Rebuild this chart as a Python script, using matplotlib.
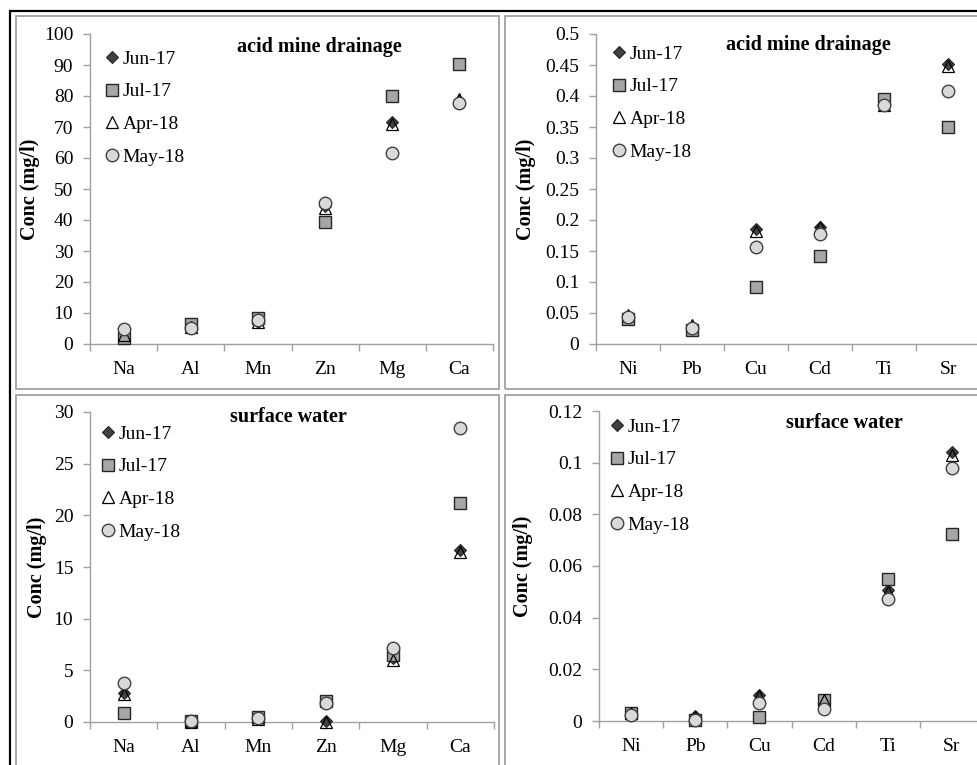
import matplotlib
matplotlib.use('Agg')
import matplotlib.pyplot as plt
from matplotlib.patches import Rectangle

W, H = 977, 765
plt.rcParams['font.family'] = ['Liberation Serif', 'DejaVu Serif']

# ---------------- data ----------------
series_labels = ['Jun-17', 'Jul-17', 'Apr-18', 'May-18']

major_elements = ['Na', 'Al', 'Mn', 'Zn', 'Mg', 'Ca']
trace_elements = ['Ni', 'Pb', 'Cu', 'Cd', 'Ti', 'Sr']

amd_major_jun = [2.5, 6.0, 7.0, 44.5, 71.5, 78.5]
amd_major_jul = [1.8, 6.5, 8.3, 39.5, 80.0, 90.2]
amd_major_apr = [2.8, 5.6, 7.0, 44.0, 71.0, 79.0]
amd_major_may = [4.8, 5.2, 7.6, 45.5, 61.5, 77.7]

amd_trace_jun = [0.045, 0.028, 0.185, 0.188, 0.390, 0.451]
amd_trace_jul = [0.040, 0.022, 0.092, 0.142, 0.395, 0.350]
amd_trace_apr = [0.046, 0.030, 0.183, 0.188, 0.385, 0.448]
amd_trace_may = [0.044, 0.026, 0.156, 0.177, 0.386, 0.408]

sw_major_jun = [2.8, 0.05, 0.35, 0.05, 6.2, 16.6]
sw_major_jul = [0.85, 0.05, 0.45, 2.0, 6.5, 21.2]
sw_major_apr = [2.7, 0.0, 0.30, 0.0, 6.0, 16.5]
sw_major_may = [3.8, 0.05, 0.40, 1.8, 7.2, 28.5]

sw_trace_jun = [0.0030, 0.0020, 0.0102, 0.0060, 0.0506, 0.1041]
sw_trace_jul = [0.0030, 0.0003, 0.0015, 0.0080, 0.0551, 0.0725]
sw_trace_apr = [0.0030, 0.0015, 0.0098, 0.0080, 0.0500, 0.1030]
sw_trace_may = [0.0025, 0.0002, 0.0070, 0.0048, 0.0471, 0.0981]

yticks_amd_major = [0, 10, 20, 30, 40, 50, 60, 70, 80, 90, 100]
ylabels_amd_major = ['0', '10', '20', '30', '40', '50', '60', '70', '80', '90', '100']
yticks_amd_trace = [0, 0.05, 0.1, 0.15, 0.2, 0.25, 0.3, 0.35, 0.4, 0.45, 0.5]
ylabels_amd_trace = ['0', '0.05', '0.1', '0.15', '0.2', '0.25', '0.3', '0.35', '0.4', '0.45', '0.5']
yticks_sw_major = [0, 5, 10, 15, 20, 25, 30]
ylabels_sw_major = ['0', '5', '10', '15', '20', '25', '30']
yticks_sw_trace = [0, 0.02, 0.04, 0.06, 0.08, 0.1, 0.12]
ylabels_sw_trace = ['0', '0.02', '0.04', '0.06', '0.08', '0.1', '0.12']

titles = ['acid mine drainage', 'acid mine drainage', 'surface water', 'surface water']
ylabel_text = 'Conc (mg/l)'

# ---------------- styles ----------------
styles = [
    dict(marker='D', markersize=6.5, markerfacecolor='#404040', markeredgecolor='#262626', markeredgewidth=0.8),
    dict(marker='s', markersize=9, markerfacecolor='#a6a6a6', markeredgecolor='#262626', markeredgewidth=1.0),
    dict(marker='^', markersize=9, markerfacecolor='none', markeredgecolor='#000000', markeredgewidth=0.9),
    dict(marker='o', markersize=9, markerfacecolor='#d9d9d9', markeredgecolor='#404040', markeredgewidth=1.0),
]

fig = plt.figure(figsize=(W / 100, H / 100), dpi=100)
fig.patch.set_facecolor('white')


def fx(px):
    return px / W


def fy(py):
    return 1 - py / H


# outer black frame and gray panel frames
fig.add_artist(Rectangle((fx(9.5), fy(1000)), (1200) / W, (1000 - 11) / H, fill=False,
                         ec='black', lw=1.6, transform=fig.transFigure))
for (x0, y0, x1, y1) in [(16, 16, 499, 389), (505, 16, 1100, 389),
                         (16, 395, 499, 1100), (505, 395, 1100, 1100)]:
    fig.add_artist(Rectangle((fx(x0), fy(y1)), (x1 - x0) / W, (y1 - y0) / H, fill=False,
                             ec='#a0a0a0', lw=1.3, transform=fig.transFigure))

panels = [
    dict(rect=(90, 34, 493, 344), cats=major_elements,
         data=[amd_major_jun, amd_major_jul, amd_major_apr, amd_major_may],
         yt=yticks_amd_major, yl=ylabels_amd_major, ylim=(0, 100),
         title_pos=(319, 47), leg=(112, 57), ylab_x=30),
    dict(rect=(596, 34, 980, 344), cats=trace_elements,
         data=[amd_trace_jun, amd_trace_jul, amd_trace_apr, amd_trace_may],
         yt=yticks_amd_trace, yl=ylabels_amd_trace, ylim=(0, 0.5),
         title_pos=(808, 45), leg=(619, 52), ylab_x=526),
    dict(rect=(90, 412, 494, 722), cats=major_elements,
         data=[sw_major_jun, sw_major_jul, sw_major_apr, sw_major_may],
         yt=yticks_sw_major, yl=ylabels_sw_major, ylim=(0, 30),
         title_pos=(288, 417), leg=(108, 432), ylab_x=37),
    dict(rect=(599, 411, 984, 721), cats=trace_elements,
         data=[sw_trace_jun, sw_trace_jul, sw_trace_apr, sw_trace_may],
         yt=yticks_sw_trace, yl=ylabels_sw_trace, ylim=(0, 0.12),
         title_pos=(844, 423), leg=(617, 425), ylab_x=523),
]

spine_color = '#a0a0a0'
for i, p in enumerate(panels):
    x0, y0, x1, y1 = p['rect']
    ax = fig.add_axes([fx(x0), fy(y1), (x1 - x0) / W, (y1 - y0) / H])
    ax.set_facecolor('none')
    xs = [k + 0.5 for k in range(len(p['cats']))]
    handles = []
    for vals, st, lab in zip(p['data'], styles, series_labels):
        h, = ax.plot(xs, vals, linestyle='none', label=lab, clip_on=False, zorder=3, **st)
        handles.append(h)
    ax.set_xlim(0, len(p['cats']))
    ax.set_ylim(*p['ylim'])
    ax.set_xticks(range(len(p['cats']) + 1))
    ax.set_xticklabels([])
    ax.set_xticks(xs, minor=True)
    ax.set_xticklabels(p['cats'], minor=True, fontsize=14)
    ax.tick_params(axis='x', which='minor', length=0, pad=12)
    ax.tick_params(axis='x', which='major', length=5, width=1, color=spine_color, direction='out')
    ax.set_yticks(p['yt'])
    ax.set_yticklabels(p['yl'], fontsize=14)
    ax.tick_params(axis='y', length=5, width=1, color=spine_color, direction='out', pad=7)
    for s in ['top', 'right']:
        ax.spines[s].set_visible(False)
    for s in ['left', 'bottom']:
        ax.spines[s].set_color(spine_color)
        ax.spines[s].set_linewidth(1.0)

    tx, ty = p['title_pos']
    fig.text(fx(tx), fy(ty), titles[i], fontsize=14.5, fontweight='bold', ha='center', va='center')
    fig.text(fx(p['ylab_x']), (fy(y0) + fy(y1)) / 2, ylabel_text, fontsize=14.5, fontweight='bold',
             rotation=90, ha='center', va='center')

    lx, ly = p['leg']
    fs_px = 14 * 100 / 72
    leg = ax.legend(handles=handles, loc='upper left', frameon=False, fontsize=14,
                    bbox_to_anchor=(fx(lx - 0.5 * fs_px), fy(ly - 7)),
                    bbox_transform=fig.transFigure, borderaxespad=0, borderpad=0,
                    handlelength=1.0, handletextpad=0.05, labelspacing=0.78, numpoints=1)

fig.savefig('out.png', dpi=100, facecolor='white')
